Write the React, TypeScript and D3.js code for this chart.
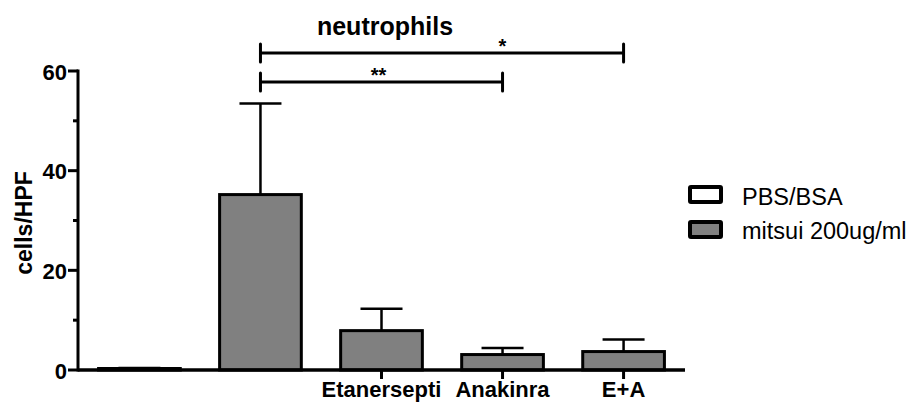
import React from 'react';
import * as d3 from 'd3';

const categories = ['PBS/BSA', 'mitsui', 'Etanersepti', 'Anakinra', 'E+A'];
const tickLabels = ['', '', 'Etanersepti', 'Anakinra', 'E+A'];
const means = [0.3, 35.2, 7.9, 3.1, 3.7];
const errors = [0.1, 18.3, 4.4, 1.3, 2.4];
const fills = ['#ffffff', '#808080', '#808080', '#808080', '#808080'];
const yTicks = [0, 20, 40, 60];
const yMinor = [10, 30, 50];
const legendLabels = ['PBS/BSA', 'mitsui 200ug/ml'];
const legendFills = ['#ffffff', '#808080'];
// significance brackets: [from, to, label, height in data units]
const brackets: [string, string, string, number][] = [
  ['mitsui', 'Anakinra', '**', 57.8],
  ['mitsui', 'E+A', '*', 63.6],
];

const W = 910, H = 403;
const FONT = 'Liberation Sans, Arial, sans-serif';

export default function App() {
  const x = d3.scaleBand<string>()
    .domain(categories)
    .range([78, 685])
    .paddingInner(0.325)
    .paddingOuter(0.17);
  const y = d3.scaleLinear().domain([0, 60]).range([370, 71]);
  const bw = x.bandwidth();
  const cx = (c: string) => (x(c) as number) + bw / 2;

  return (
    <svg width={W} height={H} style={{ position: 'absolute', left: 0, top: 0, background: '#fff' }}
      fontFamily={FONT}>
      <text x={385} y={35} textAnchor="middle" fontSize={25} fontWeight="bold">neutrophils</text>
      <text transform={`translate(32,223) rotate(-90)`} textAnchor="middle" fontSize={23} fontWeight="bold">cells/HPF</text>

      {/* y axis */}
      <line x1={78} x2={78} y1={y(60) - 1.5} y2={y(0) + 1.5} stroke="#000" strokeWidth={3} />
      {yTicks.map(t => (
        <g key={t}>
          <line x1={68} x2={78} y1={y(t)} y2={y(t)} stroke="#000" strokeWidth={3} />
          <text x={67} y={y(t) + 8.5} textAnchor="end" fontSize={22} fontWeight="bold">{t}</text>
        </g>
      ))}
      {yMinor.map(t => (
        <line key={t} x1={73} x2={78} y1={y(t)} y2={y(t)} stroke="#000" strokeWidth={3} />
      ))}

      {/* bars */}
      {categories.map((c, i) => (
        <g key={c}>
          <line x1={cx(c)} x2={cx(c)} y1={y(means[i])} y2={y(means[i] + errors[i])} stroke="#000" strokeWidth={2.5} />
          <line x1={cx(c) - 21} x2={cx(c) + 21} y1={y(means[i] + errors[i])} y2={y(means[i] + errors[i])} stroke="#000" strokeWidth={2.5} />
          <rect x={x(c)} y={y(means[i])} width={bw} height={y(0) - y(means[i])} fill={fills[i]} stroke="#000" strokeWidth={3} />
        </g>
      ))}

      {/* x axis */}
      <line x1={78} x2={685} y1={y(0)} y2={y(0)} stroke="#000" strokeWidth={3.5} />
      {categories.map((c, i) => tickLabels[i] ? (
        <g key={c}>
          <line x1={cx(c)} x2={cx(c)} y1={y(0)} y2={y(0) + 9} stroke="#000" strokeWidth={3} />
          <text x={cx(c)} y={397} textAnchor="middle" fontSize={22} fontWeight="bold">{tickLabels[i]}</text>
        </g>
      ) : null)}

      {/* significance */}
      {brackets.map(([a, b, lab, v]) => (
        <g key={lab}>
          <line x1={cx(a)} x2={cx(b)} y1={y(v)} y2={y(v)} stroke="#000" strokeWidth={3} />
          <line x1={cx(a)} x2={cx(a)} y1={y(v) - 9} y2={y(v) + 9} stroke="#000" strokeWidth={3} strokeLinecap="round" />
          <line x1={cx(b)} x2={cx(b)} y1={y(v) - 9} y2={y(v) + 9} stroke="#000" strokeWidth={3} strokeLinecap="round" />
          <text x={cx(a) + (lab === '*' ? 242 : 118)} y={y(v)} textAnchor="middle" fontSize={20} fontWeight="bold">{lab}</text>
        </g>
      ))}

      {/* legend */}
      {legendLabels.map((l, i) => (
        <g key={l}>
          <rect x={690} y={187 + i * 35} width={31} height={15} fill={legendFills[i]} stroke="#000" strokeWidth={4} rx={1} />
          <text x={742} y={204.5 + i * 34} fontSize={23.5}>{l}</text>
        </g>
      ))}
    </svg>
  );
}
